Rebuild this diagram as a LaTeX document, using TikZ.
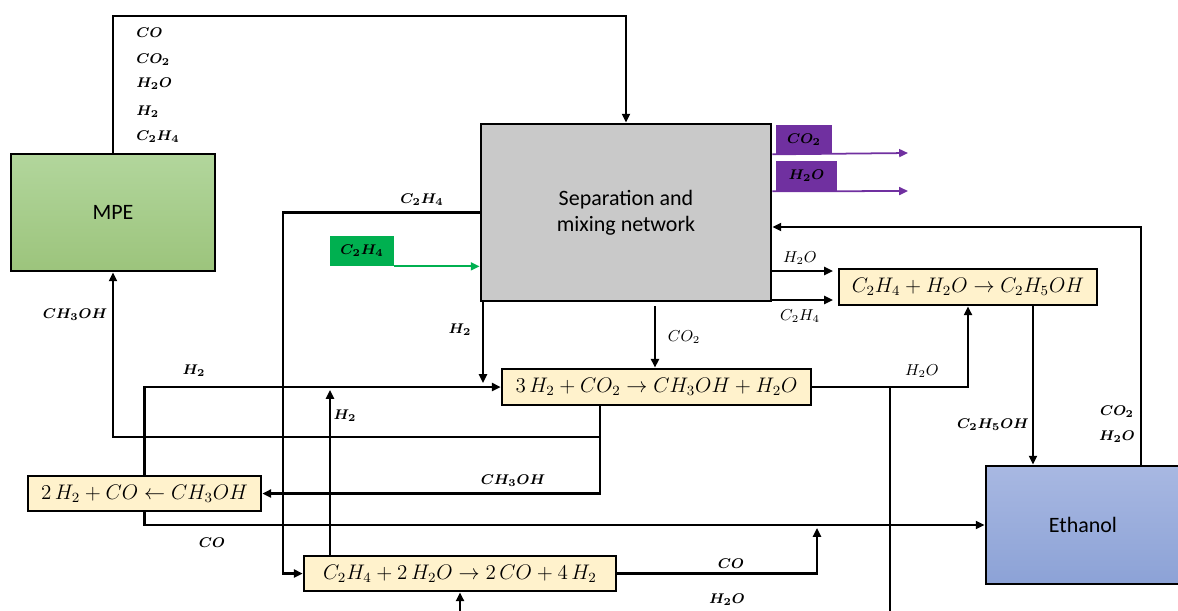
\documentclass[tikz,border=0pt]{standalone}
\usepackage[no-math]{fontspec}
\usepackage{bm}
\usetikzlibrary{arrows.meta}
\newfontfamily\boxfont{Carlito}
\definecolor{eqfill}{HTML}{FFF2CC}
\definecolor{sepgray}{HTML}{C9C9C9}
\definecolor{mpetop}{HTML}{B2D69C}
\definecolor{mpebot}{HTML}{9CC47C}
\definecolor{ethtop}{HTML}{A8B8E2}
\definecolor{ethbot}{HTML}{8CA2D6}
\definecolor{purp}{HTML}{7030A0}
\definecolor{grn}{HTML}{00B050}
\newcommand{\blab}[1]{$\bm{#1}$}
\begin{document}
\begin{tikzpicture}[x=0.02cm,y=-0.02cm,
  flow/.style={line width=1.4pt,-{Triangle[length=5pt,width=4.5pt]}},
  plain/.style={line width=1.4pt},
  parrow/.style={line width=1pt,draw=purp,-{Triangle[length=5pt,width=4.5pt]}},
  garrow/.style={line width=1pt,draw=grn,-{Triangle[length=5pt,width=4.5pt]}},
  eqbox/.style={draw,line width=1.5pt,fill=eqfill,inner sep=0pt,font=\fontsize{11.6}{13}\selectfont},
  unit/.style={draw,line width=1.6pt,inner sep=0pt,font=\boxfont\fontsize{12.5}{15}\selectfont,align=center},
  lbl/.style={font=\fontsize{8}{10}\selectfont,inner sep=0pt},
  lbln/.style={font=\fontsize{9}{11}\selectfont,inner sep=0pt},
  tag/.style={inner sep=0pt,font=\fontsize{8.5}{10}\selectfont},
]
\useasboundingbox (0,0) rectangle (1178,610);

% units
\node[unit, top color=mpetop, bottom color=mpebot, minimum width=4.08cm, minimum height=2.34cm] (mpe) at (113,212.5) {MPE};
\node[unit, fill=sepgray, minimum width=5.8cm, minimum height=3.54cm] (sep) at (626,212.5) {Separation and\\mixing network};
\node[unit, top color=ethtop, bottom color=ethbot, minimum width=3.88cm, minimum height=2.36cm] (eth) at (1083,525) {Ethanol};

% reactions
\node[eqbox, minimum width=6.18cm, minimum height=0.72cm] (r1) at (656.5,387) {$3\,H_2+CO_2\rightarrow CH_3OH+H_2O$};
\node[eqbox, minimum width=5.16cm, minimum height=0.72cm] (r2) at (968,287) {$C_2H_4+H_2O\rightarrow C_2H_5OH$};
\node[eqbox, minimum width=4.66cm, minimum height=0.7cm] (r3) at (144.5,493.5) {$2\,H_2+CO\leftarrow CH_3OH$};
\node[eqbox, minimum width=6.24cm, minimum height=0.7cm] (r4) at (460,573.5) {$C_2H_4+2\,H_2O\rightarrow 2\,CO+4\,H_2$};

% tags
\node[tag, fill=purp, minimum width=1.12cm, minimum height=0.58cm] (pco2) at (804,139.5) {\blab{CO_2}};
\node[tag, fill=purp, minimum width=1.22cm, minimum height=0.6cm] (ph2o) at (806.5,176) {\blab{H_2O}};
\node[tag, fill=grn, minimum width=1.28cm, minimum height=0.6cm] (gc2h4) at (362,251) {\blab{C_2H_4}};

% coordinates
\coordinate (co2out) at (908,153);
\coordinate (h2oout) at (908,191);
\coordinate (topc) at (626,16);
\coordinate (c2a) at (283,213);
\coordinate (h2a) at (483,383);
\coordinate (h2b) at (330,390);
\coordinate (co2a) at (655,306);
\coordinate (mj) at (600,437);
\coordinate (coa) at (817,528);
\coordinate (h2ob) at (460,612);
\coordinate (wa) at (890,387);
\coordinate (wb) at (890,612);
\coordinate (so1) at (833,271);
\coordinate (so2) at (833,300);
\coordinate (ea) at (1033,0);
\coordinate (eb) at (1141,227);

% connectors
\draw[parrow] (sep.east |- pco2.south) -- (co2out);
\draw[parrow] (sep.east |- ph2o.south) -- (h2oout);
\draw[garrow] (gc2h4.south east) -- (gc2h4.south east -| sep.west);
\draw[flow] (mpe.north) |- (topc) -- (sep.north);
\draw[flow] (sep.west) -- (sep.west -| c2a) |- (r4.west);
\draw[flow] (sep.south -| h2a) -- (h2a);
\draw[flow] (r3.north) |- (r1.west);
\draw[flow] (r4.north -| h2b) -- (h2b);
\draw[flow] (co2a) -- (r1.north -| co2a);
\draw[flow] (r1.south -| mj) -- (mj) -| (mpe.south);
\draw[flow] (mj) |- (r3.east);
\draw[flow] (r3.south) |- (eth.west);
\draw[flow] (r4.east) -| (coa);
\draw[flow] (h2ob) -- (r4.south);
\draw[plain] (wa) -- (wb);
\draw[flow] (r1.east) -| (r2.south);
\draw[flow] (sep.east |- so1) -- (so1);
\draw[flow] (sep.east |- so2) -- (so2);
\draw[flow] (r2.south -| ea) -- (eth.north -| ea);
\draw[flow] (eth.north -| eb) -- (eb) -- (eb -| sep.east);

% labels
\node[lbl, anchor=west] (l1) at (136,33) {\blab{CO}};
\node[lbl, anchor=west] (l2) at (136,60) {\blab{CO_2}};
\node[lbl, anchor=west] (l3) at (136,84) {\blab{H_2O}};
\node[lbl, anchor=west] (l4) at (136,112) {\blab{H_2}};
\node[lbl, anchor=west] (l5) at (136,137) {\blab{C_2H_4}};
\node[lbl] (l6) at (422,200) {\blab{C_2H_4}};
\node[lbl] (l7) at (75,315) {\blab{CH_3OH}};
\node[lbl] (l8) at (460,330) {\blab{H_2}};
\node[lbln] (l9) at (684,337) {$CO_2$};
\node[lbl] (l10) at (194,371) {\blab{H_2}};
\node[lbl] (l11) at (345,416) {\blab{H_2}};
\node[lbl] (l12) at (513,481) {\blab{CH_3OH}};
\node[lbl] (l13) at (212,543) {\blab{CO}};
\node[lbl] (l14) at (731,564) {\blab{CO}};
\node[lbl] (l15) at (727,600) {\blab{H_2O}};
\node[lbln] (l16) at (922,371) {$H_2O$};
\node[lbln] (l17) at (800,258) {$H_2O$};
\node[lbln] (l18) at (800,316) {$C_2H_4$};
\node[lbl] (l19) at (993,425) {\blab{C_2H_5OH}};
\node[lbl] (l20) at (1117,412) {\blab{CO_2}};
\node[lbl] (l21) at (1117,437) {\blab{H_2O}};
\end{tikzpicture}
\end{document}
